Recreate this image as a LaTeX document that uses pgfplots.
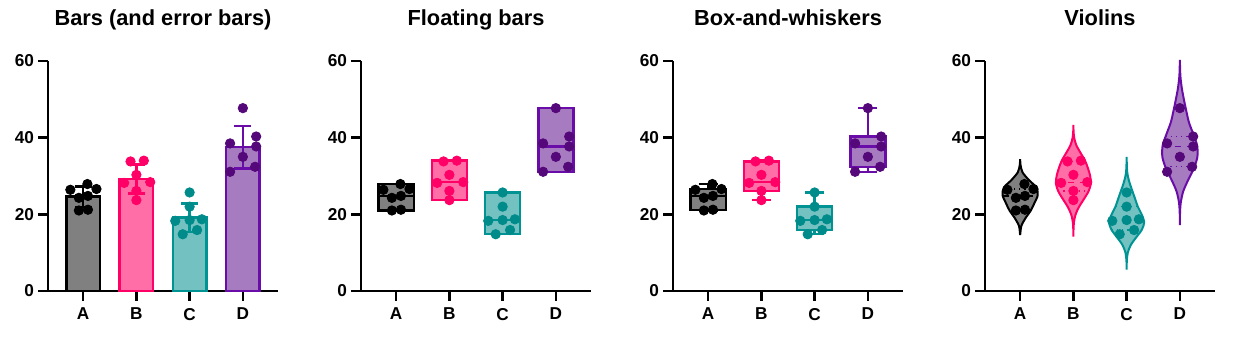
\documentclass[border=0pt]{standalone}
\usepackage{fontspec}
\setmainfont{Liberation Sans}
\usepackage{pgfplots}
\pgfplotsset{compat=1.18}
\usepgfplotslibrary{statistics}
\definecolor{fA}{HTML}{808080}
\definecolor{eA}{HTML}{000000}
\definecolor{dA}{HTML}{000000}
\definecolor{fB}{HTML}{FF6EA7}
\definecolor{eB}{HTML}{FF0066}
\definecolor{dB}{HTML}{FF0066}
\definecolor{fC}{HTML}{73C1C1}
\definecolor{eC}{HTML}{009393}
\definecolor{dC}{HTML}{008B8B}
\definecolor{fD}{HTML}{A77BC0}
\definecolor{eD}{HTML}{6A0DA8}
\definecolor{dD}{HTML}{55087A}
\pgfplotsset{
  panel/.style={
    scale only axis, width=115pt, height=115pt,
    xmin=-0.66, xmax=3.66, ymin=0, ymax=60,
    axis lines*=left, clip=false,
    xtick={0,1,2,3}, xticklabels={A,B,C,D},
    ytick={0,20,40,60},
    tick align=outside, major tick length=5pt,
    axis line style={line width=1.25pt},
    every tick/.style={black, line width=1.25pt},
    tick label style={font=\bfseries\fontsize{8.6}{9}\selectfont},
    yticklabel style={xshift=1.5pt},
    /pgf/number format/assume math mode=true,
    title style={at={(0.5,1)}, anchor=base, yshift=11.5pt, font=\bfseries\fontsize{10.9}{12}\selectfont},
    boxplot/draw direction=y,
  },
  dots/.style={only marks, mark=*, mark size=2.35pt},
}
\begin{document}
\begin{tikzpicture}
\path (0,0) rectangle (620pt,178pt);
% ---------------- Panel 1: bars
\begin{axis}[panel, at={(24pt,32.5pt)}, anchor=south west, title={Bars (and error bars)}]
\addplot[ybar, bar width=0.63, bar shift=0, fill=fA, draw=eA, line width=1.2pt,
  error bars/.cd, y dir=both, y explicit, error bar style={line width=1.2pt, eA},
  error mark options={rotate=90, mark size=4.2pt, line width=1.2pt, eA}]
  coordinates {(0,24.6) +- (0,2.67)};
\addplot[ybar, bar width=0.63, bar shift=0, fill=fB, draw=eB, line width=1.2pt,
  error bars/.cd, y dir=both, y explicit, error bar style={line width=1.2pt, eB},
  error mark options={rotate=90, mark size=4.2pt, line width=1.2pt, eB}]
  coordinates {(1,29.21) +- (0,3.81)};
\addplot[ybar, bar width=0.63, bar shift=0, fill=fC, draw=eC, line width=1.2pt,
  error bars/.cd, y dir=both, y explicit, error bar style={line width=1.2pt, eC},
  error mark options={rotate=90, mark size=4.2pt, line width=1.2pt, eC}]
  coordinates {(2,19.13) +- (0,3.69)};
\addplot[ybar, bar width=0.63, bar shift=0, fill=fD, draw=eD, line width=1.2pt,
  error bars/.cd, y dir=both, y explicit, error bar style={line width=1.2pt, eD},
  error mark options={rotate=90, mark size=4.2pt, line width=1.2pt, eD}]
  coordinates {(3,37.53) +- (0,5.57)};
\addplot[dots, dA] coordinates {(-0.08,21.0) (0.09,21.2) (-0.08,24.3) (0.09,24.8) (-0.24,26.4) (0.25,26.6) (0.08,27.9)};
\addplot[dots, dB] coordinates {(1,23.7) (1,26.1) (0.77,28.2) (1.26,28.4) (1,30.3) (0.89,33.8) (1.14,34.0)};
\addplot[dots, dC] coordinates {(1.87,14.8) (2.14,15.9) (1.73,18.3) (2,18.5) (2.23,18.7) (2,22.0) (2,25.7)};
\addplot[dots, dD] coordinates {(2.76,31.1) (3.23,32.4) (3,35.0) (3.25,37.7) (2.76,38.5) (3.25,40.3) (3,47.7)};
\end{axis}
% ---------------- Panel 2: floating bars
\begin{axis}[panel, at={(180.5pt,32.5pt)}, anchor=south west, title={Floating bars}]
\addplot[fill=fA, draw=eA, line width=1.2pt, boxplot prepared={draw position=0, lower whisker=21.0, lower quartile=21.0, median=24.8, upper quartile=27.9, upper whisker=27.9, box extend=0.66, whisker extend=0}] coordinates {};
\addplot[fill=fB, draw=eB, line width=1.2pt, boxplot prepared={draw position=1, lower whisker=23.7, lower quartile=23.7, median=28.4, upper quartile=34.0, upper whisker=34.0, box extend=0.66, whisker extend=0}] coordinates {};
\addplot[fill=fC, draw=eC, line width=1.2pt, boxplot prepared={draw position=2, lower whisker=14.8, lower quartile=14.8, median=18.5, upper quartile=25.7, upper whisker=25.7, box extend=0.66, whisker extend=0}] coordinates {};
\addplot[fill=fD, draw=eD, line width=1.2pt, boxplot prepared={draw position=3, lower whisker=31.1, lower quartile=31.1, median=37.7, upper quartile=47.7, upper whisker=47.7, box extend=0.66, whisker extend=0}] coordinates {};
\addplot[dots, dA] coordinates {(-0.08,21.0) (0.09,21.2) (-0.08,24.3) (0.09,24.8) (-0.24,26.4) (0.25,26.6) (0.08,27.9)};
\addplot[dots, dB] coordinates {(1,23.7) (1,26.1) (0.77,28.2) (1.26,28.4) (1,30.3) (0.89,33.8) (1.14,34.0)};
\addplot[dots, dC] coordinates {(1.87,14.8) (2.14,15.9) (1.73,18.3) (2,18.5) (2.23,18.7) (2,22.0) (2,25.7)};
\addplot[dots, dD] coordinates {(2.76,31.1) (3.23,32.4) (3,35.0) (3.25,37.7) (2.76,38.5) (3.25,40.3) (3,47.7)};
\end{axis}
% ---------------- Panel 3: box and whiskers
\begin{axis}[panel, at={(336.5pt,32.5pt)}, anchor=south west, title={Box-and-whiskers}]
\addplot[fill=fA, draw=eA, line width=1.2pt, boxplot prepared={draw position=0, lower whisker=21.0, lower quartile=21.2, median=24.8, upper quartile=26.6, upper whisker=27.9, box extend=0.66, whisker extend=0.36}] coordinates {};
\addplot[fill=fB, draw=eB, line width=1.2pt, boxplot prepared={draw position=1, lower whisker=23.7, lower quartile=26.1, median=28.4, upper quartile=33.8, upper whisker=34.0, box extend=0.66, whisker extend=0.36}] coordinates {};
\addplot[fill=fC, draw=eC, line width=1.2pt, boxplot prepared={draw position=2, lower whisker=14.8, lower quartile=15.9, median=18.5, upper quartile=22.0, upper whisker=25.7, box extend=0.66, whisker extend=0.36}] coordinates {};
\addplot[fill=fD, draw=eD, line width=1.2pt, boxplot prepared={draw position=3, lower whisker=31.1, lower quartile=32.4, median=37.7, upper quartile=40.3, upper whisker=47.7, box extend=0.66, whisker extend=0.36}] coordinates {};
\addplot[dots, dA] coordinates {(-0.08,21.0) (0.09,21.2) (-0.08,24.3) (0.09,24.8) (-0.24,26.4) (0.25,26.6) (0.08,27.9)};
\addplot[dots, dB] coordinates {(1,23.7) (1,26.1) (0.77,28.2) (1.26,28.4) (1,30.3) (0.89,33.8) (1.14,34.0)};
\addplot[dots, dC] coordinates {(1.87,14.8) (2.14,15.9) (1.73,18.3) (2,18.5) (2.23,18.7) (2,22.0) (2,25.7)};
\addplot[dots, dD] coordinates {(2.76,31.1) (3.23,32.4) (3,35.0) (3.25,37.7) (2.76,38.5) (3.25,40.3) (3,47.7)};
\end{axis}
% ---------------- Panel 4: violins
\begin{axis}[panel, at={(492.5pt,32.5pt)}, anchor=south west, title={Violins}]
\addplot[smooth, fill=fA, draw=eA, line width=1pt] coordinates {(0,14.6) (0.003,15) (0.023,17) (0.1,19) (0.2,21) (0.27,23) (0.33,25) (0.305,27) (0.16,29) (0.043,31) (0.006,33) (0,34.4) (-0.006,33) (-0.043,31) (-0.16,29) (-0.305,27) (-0.33,25) (-0.27,23) (-0.2,21) (-0.1,19) (-0.023,17) (-0.003,15) (0,14.6)};
\addplot[smooth, fill=fB, draw=eB, line width=1pt] coordinates {(1,14.2) (1.002,16) (1.011,18) (1.042,20) (1.108,22) (1.199,24) (1.284,26) (1.328,28) (1.315,30) (1.274,32) (1.219,34) (1.136,36) (1.056,38) (1.014,40) (1.002,42) (1,43.3) (0.998,42) (0.986,40) (0.944,38) (0.864,36) (0.781,34) (0.726,32) (0.685,30) (0.672,28) (0.716,26) (0.801,24) (0.892,22) (0.958,20) (0.989,18) (0.998,16) (1,14.2)};
\addplot[smooth, fill=fC, draw=eC, line width=1pt] coordinates {(2,5.6) (2.004,8) (2.022,10) (2.078,12) (2.18,14) (2.286,16) (2.33,18) (2.282,20) (2.21,22) (2.16,24) (2.11,26) (2.06,28) (2.022,30) (2.005,32) (2,35) (1.995,32) (1.978,30) (1.94,28) (1.89,26) (1.84,24) (1.79,22) (1.718,20) (1.67,18) (1.714,16) (1.82,14) (1.922,12) (1.978,10) (1.996,8) (2,5.6)};
\addplot[smooth, fill=fD, draw=eD, line width=1pt] coordinates {(3,17.2) (3.002,20) (3.016,23) (3.063,26) (3.157,29) (3.263,32) (3.329,35) (3.323,38) (3.25,41) (3.17,44) (3.12,47) (3.075,50) (3.035,53) (3.01,56) (3.002,59) (3,60.3) (2.998,59) (2.99,56) (2.965,53) (2.925,50) (2.88,47) (2.83,44) (2.75,41) (2.677,38) (2.671,35) (2.737,32) (2.843,29) (2.937,26) (2.984,23) (2.998,20) (3,17.2)};
% medians (dashed) and quartiles (dotted)
\addplot[eA, dashed, line width=0.6pt] coordinates {(-0.325,24.8) (0.325,24.8)};
\addplot[eA, dotted, line width=0.6pt] coordinates {(-0.207,21.2) (0.207,21.2)};
\addplot[eA, dotted, line width=0.6pt] coordinates {(-0.31,26.6) (0.31,26.6)};
\addplot[eB, dashed, line width=0.6pt] coordinates {(0.674,28.4) (1.326,28.4)};
\addplot[eB, dotted, line width=0.6pt] coordinates {(0.714,26.1) (1.286,26.1)};
\addplot[eB, dotted, line width=0.6pt] coordinates {(0.775,33.8) (1.225,33.8)};
\addplot[eC, dashed, line width=0.6pt] coordinates {(1.68,18.5) (2.32,18.5)};
\addplot[eC, dotted, line width=0.6pt] coordinates {(1.72,15.9) (2.28,15.9)};
\addplot[eC, dotted, line width=0.6pt] coordinates {(1.79,22.0) (2.21,22.0)};
\addplot[eD, dashed, line width=0.6pt] coordinates {(2.676,37.7) (3.324,37.7)};
\addplot[eD, dotted, line width=0.6pt] coordinates {(2.725,32.4) (3.275,32.4)};
\addplot[eD, dotted, line width=0.6pt] coordinates {(2.73,40.3) (3.27,40.3)};
\addplot[dots, dA] coordinates {(-0.08,21.0) (0.09,21.2) (-0.08,24.3) (0.09,24.8) (-0.24,26.4) (0.25,26.6) (0.08,27.9)};
\addplot[dots, dB] coordinates {(1,23.7) (1,26.1) (0.77,28.2) (1.26,28.4) (1,30.3) (0.89,33.8) (1.14,34.0)};
\addplot[dots, dC] coordinates {(1.87,14.8) (2.14,15.9) (1.73,18.3) (2,18.5) (2.23,18.7) (2,22.0) (2,25.7)};
\addplot[dots, dD] coordinates {(2.76,31.1) (3.23,32.4) (3,35.0) (3.25,37.7) (2.76,38.5) (3.25,40.3) (3,47.7)};
\end{axis}
\end{tikzpicture}
\end{document}
